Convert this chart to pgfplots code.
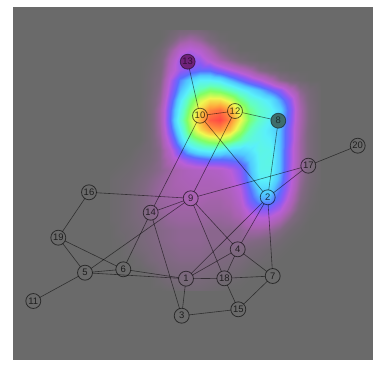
\documentclass[border=0pt]{standalone}
\usepackage{fontspec}
\setmainfont{Liberation Sans}
\usepackage{pgfplots}
\pgfplotsset{compat=1.18}
\usepackage{pgfplotstable}

\definecolor{panel}{RGB}{106,106,106}
\definecolor{nodepurple}{RGB}{112,34,122}
\definecolor{nodeteal}{RGB}{62,110,108}

\pgfplotsset{
  colormap={heat}{
    rgb255(0)=(106,106,106) rgb255(8)=(128,104,130) rgb255(16)=(168,98,176)
    rgb255(24)=(185,95,215) rgb255(30)=(140,90,245) rgb255(36)=(90,110,255)
    rgb255(43)=(80,200,255) rgb255(50)=(90,240,250) rgb255(58)=(100,255,190)
    rgb255(66)=(130,255,100) rgb255(77)=(240,248,80) rgb255(88)=(255,165,60)
    rgb255(100)=(255,72,68)
  },
  graphedge/.style={black, opacity=0.55, line width=0.6pt,
    shorten <=7.5pt, shorten >=7.5pt, forget plot},
}

% graph vertices (image-style coordinates, y grows downward)
\pgfplotstableread{
x y lab
186 278.7 1
267.7 197.3 2
181.7 315.7 3
237.7 249.3 4
85 272.7 5
123.3 269.3 6
272.7 276 7
190.7 198.3 9
200 115.7 10
33.3 301 11
235 111 12
150.7 212.7 14
238.3 309.3 15
89 192.3 16
308.3 165.7 17
224.3 278.3 18
58.3 237.7 19
357.7 145.7 20
}\vertices

\newcommand{\link}[4]{\addplot[graphedge] coordinates {(#1,#2) (#3,#4)};}

\begin{document}
\begin{tikzpicture}
\begin{axis}[
  width=373bp, height=369bp, scale only axis,
  xmin=0, xmax=373, ymin=0, ymax=369, y dir=reverse,
  hide axis, clip=false,
  colormap name=heat, point meta min=0, point meta max=1,
]
% page and panel
\addplot[fill=white, draw=none, forget plot] coordinates {(0,0) (373,0) (373,369) (0,369)} -- cycle;
\addplot[fill=panel, draw=none, forget plot] coordinates {(13,7) (373,7) (373,360) (13,360)} -- cycle;

% attention density
\addplot[surf, shader=interp, mesh/cols=22, point meta=\thisrow{v}, forget plot]
table[row sep=\\] {
x y v\\
110 30 0\\120 30 0\\130 30 0\\140 30 0\\150 30 0\\160 30 0\\170 30 0.02\\180 30 0.05\\190 30 0.06\\200 30 0.05\\210 30 0.02\\220 30 0\\230 30 0\\240 30 0\\250 30 0\\260 30 0\\270 30 0\\280 30 0\\290 30 0\\300 30 0\\310 30 0\\320 30 0\\
110 40 0\\120 40 0\\130 40 0\\140 40 0\\150 40 0\\160 40 0\\170 40 0.05\\180 40 0.12\\190 40 0.15\\200 40 0.12\\210 40 0.06\\220 40 0.02\\230 40 0\\240 40 0\\250 40 0\\260 40 0\\270 40 0\\280 40 0\\290 40 0\\300 40 0\\310 40 0\\320 40 0\\
110 50 0\\120 50 0\\130 50 0\\140 50 0\\150 50 0\\160 50 0.03\\170 50 0.12\\180 50 0.22\\190 50 0.25\\200 50 0.22\\210 50 0.15\\220 50 0.08\\230 50 0.03\\240 50 0\\250 50 0\\260 50 0\\270 50 0\\280 50 0\\290 50 0\\300 50 0\\310 50 0\\320 50 0\\
110 60 0\\120 60 0\\130 60 0\\140 60 0\\150 60 0.01\\160 60 0.05\\170 60 0.17\\180 60 0.28\\190 60 0.30\\200 60 0.28\\210 60 0.22\\220 60 0.15\\230 60 0.10\\240 60 0.05\\250 60 0.02\\260 60 0\\270 60 0\\280 60 0\\290 60 0\\300 60 0\\310 60 0\\320 60 0\\
110 70 0\\120 70 0\\130 70 0\\140 70 0\\150 70 0.02\\160 70 0.06\\170 70 0.20\\180 70 0.28\\190 70 0.32\\200 70 0.35\\210 70 0.35\\220 70 0.30\\230 70 0.25\\240 70 0.20\\250 70 0.15\\260 70 0.08\\270 70 0.04\\280 70 0.01\\290 70 0\\300 70 0\\310 70 0\\320 70 0\\
110 80 0\\120 80 0\\130 80 0\\140 80 0\\150 80 0.03\\160 80 0.08\\170 80 0.25\\180 80 0.38\\190 80 0.45\\200 80 0.50\\210 80 0.50\\220 80 0.48\\230 80 0.42\\240 80 0.36\\250 80 0.30\\260 80 0.25\\270 80 0.18\\280 80 0.10\\290 80 0.05\\300 80 0.02\\310 80 0\\320 80 0\\
110 90 0\\120 90 0\\130 90 0\\140 90 0\\150 90 0.03\\160 90 0.10\\170 90 0.28\\180 90 0.42\\190 90 0.52\\200 90 0.60\\210 90 0.65\\220 90 0.63\\230 90 0.58\\240 90 0.52\\250 90 0.47\\260 90 0.42\\270 90 0.36\\280 90 0.30\\290 90 0.20\\300 90 0.10\\310 90 0.04\\320 90 0.01\\
110 100 0\\120 100 0\\130 100 0\\140 100 0\\150 100 0.04\\160 100 0.12\\170 100 0.32\\180 100 0.48\\190 100 0.62\\200 100 0.74\\210 100 0.80\\220 100 0.80\\230 100 0.74\\240 100 0.64\\250 100 0.56\\260 100 0.52\\270 100 0.48\\280 100 0.40\\290 100 0.30\\300 100 0.14\\310 100 0.05\\320 100 0.01\\
110 110 0\\120 110 0\\130 110 0\\140 110 0\\150 110 0.04\\160 110 0.15\\170 110 0.35\\180 110 0.52\\190 110 0.68\\200 110 0.82\\210 110 0.92\\220 110 0.95\\230 110 0.88\\240 110 0.74\\250 110 0.62\\260 110 0.56\\270 110 0.52\\280 110 0.45\\290 110 0.33\\300 110 0.16\\310 110 0.06\\320 110 0.01\\
110 120 0\\120 120 0\\130 120 0\\140 120 0\\150 120 0.04\\160 120 0.15\\170 120 0.36\\180 120 0.55\\190 120 0.72\\200 120 0.86\\210 120 0.97\\220 120 1\\230 120 0.92\\240 120 0.78\\250 120 0.64\\260 120 0.56\\270 120 0.50\\280 120 0.44\\290 120 0.32\\300 120 0.16\\310 120 0.06\\320 120 0.01\\
110 130 0\\120 130 0\\130 130 0\\140 130 0\\150 130 0.04\\160 130 0.14\\170 130 0.33\\180 130 0.50\\190 130 0.68\\200 130 0.80\\210 130 0.88\\220 130 0.90\\230 130 0.84\\240 130 0.70\\250 130 0.58\\260 130 0.52\\270 130 0.48\\280 130 0.42\\290 130 0.30\\300 130 0.15\\310 130 0.05\\320 130 0.01\\
110 140 0\\120 140 0\\130 140 0\\140 140 0\\150 140 0.04\\160 140 0.12\\170 140 0.28\\180 140 0.44\\190 140 0.58\\200 140 0.65\\210 140 0.70\\220 140 0.72\\230 140 0.67\\240 140 0.60\\250 140 0.54\\260 140 0.52\\270 140 0.50\\280 140 0.42\\290 140 0.30\\300 140 0.14\\310 140 0.05\\320 140 0.01\\
110 150 0\\120 150 0\\130 150 0\\140 150 0.02\\150 150 0.04\\160 150 0.10\\170 150 0.22\\180 150 0.35\\190 150 0.45\\200 150 0.50\\210 150 0.52\\220 150 0.50\\230 150 0.47\\240 150 0.46\\250 150 0.48\\260 150 0.53\\270 150 0.52\\280 150 0.42\\290 150 0.28\\300 150 0.14\\310 150 0.05\\320 150 0.01\\
110 160 0\\120 160 0\\130 160 0.01\\140 160 0.03\\150 160 0.05\\160 160 0.10\\170 160 0.18\\180 160 0.25\\190 160 0.30\\200 160 0.33\\210 160 0.35\\220 160 0.35\\230 160 0.36\\240 160 0.38\\250 160 0.44\\260 160 0.52\\270 160 0.53\\280 160 0.42\\290 160 0.28\\300 160 0.14\\310 160 0.05\\320 160 0.01\\
110 170 0\\120 170 0.01\\130 170 0.02\\140 170 0.04\\150 170 0.07\\160 170 0.10\\170 170 0.14\\180 170 0.17\\190 170 0.19\\200 170 0.20\\210 170 0.20\\220 170 0.21\\230 170 0.24\\240 170 0.30\\250 170 0.42\\260 170 0.52\\270 170 0.52\\280 170 0.42\\290 170 0.27\\300 170 0.13\\310 170 0.05\\320 170 0.01\\
110 180 0.01\\120 180 0.02\\130 180 0.03\\140 180 0.06\\150 180 0.09\\160 180 0.12\\170 180 0.15\\180 180 0.17\\190 180 0.18\\200 180 0.18\\210 180 0.18\\220 180 0.19\\230 180 0.22\\240 180 0.28\\250 180 0.40\\260 180 0.50\\270 180 0.50\\280 180 0.40\\290 180 0.26\\300 180 0.12\\310 180 0.04\\320 180 0.01\\
110 190 0.01\\120 190 0.02\\130 190 0.04\\140 190 0.07\\150 190 0.10\\160 190 0.13\\170 190 0.15\\180 190 0.16\\190 190 0.17\\200 190 0.17\\210 190 0.17\\220 190 0.17\\230 190 0.19\\240 190 0.24\\250 190 0.36\\260 190 0.45\\270 190 0.45\\280 190 0.36\\290 190 0.24\\300 190 0.10\\310 190 0.03\\320 190 0\\
110 200 0.01\\120 200 0.02\\130 200 0.04\\140 200 0.07\\150 200 0.10\\160 200 0.13\\170 200 0.14\\180 200 0.15\\190 200 0.16\\200 200 0.16\\210 200 0.15\\220 200 0.15\\230 200 0.17\\240 200 0.22\\250 200 0.33\\260 200 0.40\\270 200 0.40\\280 200 0.32\\290 200 0.20\\300 200 0.08\\310 200 0.02\\320 200 0\\
110 210 0.01\\120 210 0.02\\130 210 0.04\\140 210 0.07\\150 210 0.09\\160 210 0.12\\170 210 0.14\\180 210 0.14\\190 210 0.14\\200 210 0.14\\210 210 0.14\\220 210 0.14\\230 210 0.15\\240 210 0.19\\250 210 0.27\\260 210 0.30\\270 210 0.30\\280 210 0.25\\290 210 0.15\\300 210 0.05\\310 210 0.01\\320 210 0\\
110 220 0.01\\120 220 0.02\\130 220 0.04\\140 220 0.06\\150 220 0.08\\160 220 0.10\\170 220 0.12\\180 220 0.13\\190 220 0.13\\200 220 0.13\\210 220 0.12\\220 220 0.12\\230 220 0.13\\240 220 0.15\\250 220 0.20\\260 220 0.22\\270 220 0.21\\280 220 0.16\\290 220 0.08\\300 220 0.03\\310 220 0\\320 220 0\\
110 230 0\\120 230 0.02\\130 230 0.03\\140 230 0.05\\150 230 0.07\\160 230 0.09\\170 230 0.10\\180 230 0.11\\190 230 0.11\\200 230 0.11\\210 230 0.10\\220 230 0.10\\230 230 0.10\\240 230 0.11\\250 230 0.14\\260 230 0.14\\270 230 0.12\\280 230 0.08\\290 230 0.03\\300 230 0.01\\310 230 0\\320 230 0\\
110 240 0\\120 240 0.01\\130 240 0.03\\140 240 0.05\\150 240 0.07\\160 240 0.09\\170 240 0.10\\180 240 0.11\\190 240 0.11\\200 240 0.11\\210 240 0.10\\220 240 0.10\\230 240 0.10\\240 240 0.10\\250 240 0.09\\260 240 0.08\\270 240 0.06\\280 240 0.03\\290 240 0.01\\300 240 0\\310 240 0\\320 240 0\\
110 250 0\\120 250 0\\130 250 0.02\\140 250 0.04\\150 250 0.06\\160 250 0.08\\170 250 0.09\\180 250 0.10\\190 250 0.10\\200 250 0.10\\210 250 0.09\\220 250 0.08\\230 250 0.08\\240 250 0.07\\250 250 0.05\\260 250 0.04\\270 250 0.02\\280 250 0.01\\290 250 0\\300 250 0\\310 250 0\\320 250 0\\
110 260 0\\120 260 0\\130 260 0\\140 260 0.02\\150 260 0.05\\160 260 0.07\\170 260 0.08\\180 260 0.09\\190 260 0.09\\200 260 0.09\\210 260 0.08\\220 260 0.07\\230 260 0.06\\240 260 0.05\\250 260 0.03\\260 260 0.02\\270 260 0.01\\280 260 0\\290 260 0\\300 260 0\\310 260 0\\320 260 0\\
110 270 0\\120 270 0\\130 270 0\\140 270 0\\150 270 0.02\\160 270 0.05\\170 270 0.06\\180 270 0.07\\190 270 0.07\\200 270 0.07\\210 270 0.06\\220 270 0.05\\230 270 0.04\\240 270 0.03\\250 270 0.01\\260 270 0\\270 270 0\\280 270 0\\290 270 0\\300 270 0\\310 270 0\\320 270 0\\
110 280 0\\120 280 0\\130 280 0\\140 280 0\\150 280 0\\160 280 0.02\\170 280 0.04\\180 280 0.05\\190 280 0.05\\200 280 0.05\\210 280 0.04\\220 280 0.03\\230 280 0.02\\240 280 0.01\\250 280 0\\260 280 0\\270 280 0\\280 280 0\\290 280 0\\300 280 0\\310 280 0\\320 280 0\\
110 290 0\\120 290 0\\130 290 0\\140 290 0\\150 290 0\\160 290 0\\170 290 0.01\\180 290 0.02\\190 290 0.03\\200 290 0.03\\210 290 0.02\\220 290 0.01\\230 290 0\\240 290 0\\250 290 0\\260 290 0\\270 290 0\\280 290 0\\290 290 0\\300 290 0\\310 290 0\\320 290 0\\
};

% edges
\link{187.7}{61.7}{200}{115.7}
\link{200}{115.7}{235}{111}
\link{235}{111}{278.3}{120.7}
\link{200}{115.7}{150.7}{212.7}
\link{200}{115.7}{267.7}{197.3}
\link{235}{111}{190.7}{198.3}
\link{278.3}{120.7}{267.7}{197.3}
\link{357.7}{145.7}{308.3}{165.7}
\link{308.3}{165.7}{190.7}{198.3}
\link{308.3}{165.7}{267.7}{197.3}
\link{89}{192.3}{190.7}{198.3}
\link{190.7}{198.3}{150.7}{212.7}
\link{190.7}{198.3}{85}{272.7}
\link{190.7}{198.3}{237.7}{249.3}
\link{190.7}{198.3}{224.3}{278.3}
\link{89}{192.3}{58.3}{237.7}
\link{58.3}{237.7}{85}{272.7}
\link{58.3}{237.7}{123.3}{269.3}
\link{150.7}{212.7}{123.3}{269.3}
\link{150.7}{212.7}{181.7}{315.7}
\link{85}{272.7}{33.3}{301}
\link{85}{272.7}{123.3}{269.3}
\link{85}{272.7}{186}{278.7}
\link{123.3}{269.3}{186}{278.7}
\link{267.7}{197.3}{186}{278.7}
\link{267.7}{197.3}{237.7}{249.3}
\link{267.7}{197.3}{272.7}{276}
\link{237.7}{249.3}{186}{278.7}
\link{237.7}{249.3}{224.3}{278.3}
\link{237.7}{249.3}{272.7}{276}
\link{186}{278.7}{224.3}{278.3}
\link{224.3}{278.3}{272.7}{276}
\link{186}{278.7}{181.7}{315.7}
\link{224.3}{278.3}{238.3}{309.3}
\link{272.7}{276}{238.3}{309.3}
\link{181.7}{315.7}{238.3}{309.3}

% vertices
\addplot[only marks, mark=o, mark size=7.5pt,
  mark options={draw=black, draw opacity=0.6, line width=0.8pt},
  point meta=explicit symbolic, nodes near coords, nodes near coords align=center,
  nodes near coords style={font=\fontsize{9.5}{10}\selectfont, text=black, text opacity=0.72}]
  table[x=x, y=y, meta=lab] {\vertices};
\addplot[only marks, mark=*, mark size=7.5pt,
  mark options={draw=black, draw opacity=0.5, fill=nodepurple, line width=0.8pt},
  point meta=explicit symbolic, nodes near coords, nodes near coords align=center,
  nodes near coords style={font=\fontsize{9.5}{10}\selectfont, text=black, text opacity=0.55}]
  coordinates {(187.7,61.7) [13]};
\addplot[only marks, mark=*, mark size=7.5pt,
  mark options={draw=black, draw opacity=0.5, fill=nodeteal, line width=0.8pt},
  point meta=explicit symbolic, nodes near coords, nodes near coords align=center,
  nodes near coords style={font=\fontsize{9.5}{10}\selectfont, text=black, text opacity=0.55}]
  coordinates {(278.3,120.7) [8]};
\end{axis}
\end{tikzpicture}
\end{document}
